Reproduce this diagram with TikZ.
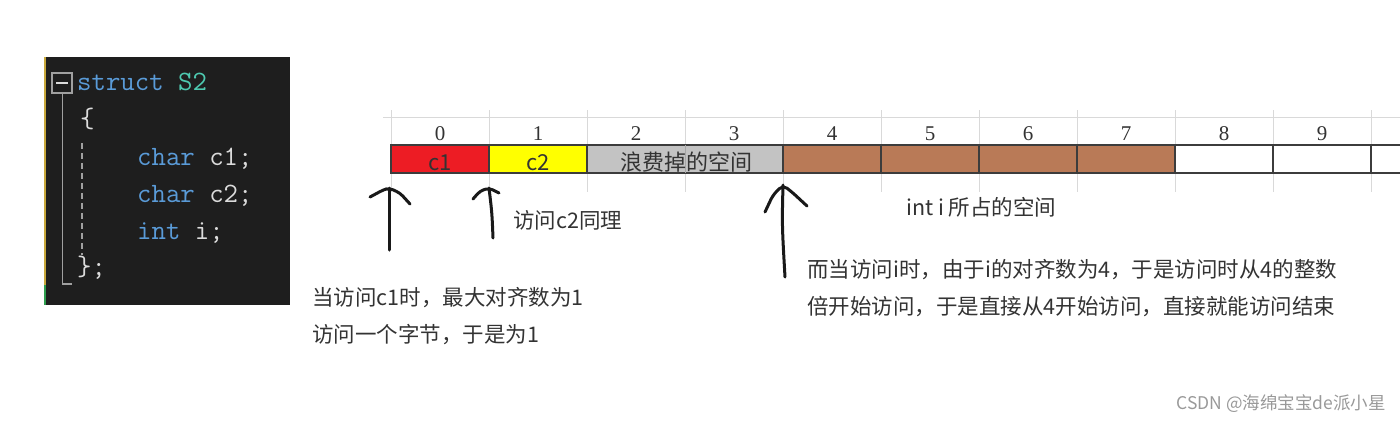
\documentclass[tikz,border=0pt]{standalone}
\usepackage{fontspec}
\usepackage{xcolor}
\usetikzlibrary{calc}
\newfontfamily\cjk{Noto Sans CJK SC}
\newfontfamily\numfont{Liberation Serif}

\definecolor{codebg}{HTML}{1E1E1E}
\definecolor{kwblue}{HTML}{5A9BD8}
\definecolor{typeteal}{HTML}{4EC9B0}
\definecolor{plaincode}{HTML}{DCDCDC}
\definecolor{guidegray}{HTML}{A0A0A0}
\definecolor{stripeyellow}{HTML}{C8A83C}
\definecolor{stripegreen}{HTML}{2E9E4E}
\definecolor{cRed}{HTML}{ED1C24}
\definecolor{cYellow}{HTML}{FFFF00}
\definecolor{cGray}{HTML}{C3C3C3}
\definecolor{cBrown}{HTML}{B97A57}
\definecolor{cellline}{HTML}{3C3C3C}
\definecolor{gridgray}{HTML}{D9D9D9}
\definecolor{notetext}{HTML}{333333}

\tikzset{
    memcell/.style={draw=cellline, line width=1.5pt, minimum width=98pt, minimum height=28pt, inner sep=0pt, outer sep=0pt},
    gridline/.style={draw=gridgray, line width=1pt},
    handarrow/.style={line width=3pt, line cap=round, line join=round, black!90},
    note/.style={font=\cjk\fontsize{21.5}{37}\selectfont, text=notetext, inner sep=0pt, align=left, anchor=west},
    codeline/.style={font=\ttfamily\fontsize{28}{33}\selectfont, text=plaincode, inner sep=0pt, anchor=base west},
    idx/.style={font=\numfont\fontsize{21}{24}\selectfont, text=black!80, inner sep=0pt},
    celltext/.style={font=\cjk\fontsize{22}{26}\selectfont, text=notetext, inner sep=0pt, anchor=base},
}

\begin{document}
\begin{tikzpicture}[x=1pt, y=-1pt]
    \useasboundingbox (0,0) rectangle (1400,421);
    \clip (0,0) rectangle (1400,421);

    % code panel
    \fill[codebg] (44,57) rectangle (290,305);
    \fill[stripeyellow] (44,57) rectangle (46,285);
    \fill[stripegreen] (44,285) rectangle (46,305);
    \draw[guidegray, line width=1.5pt] (52,73) rectangle (72,93);
    \draw[plaincode, line width=2pt] (56,83) -- (68,83);
    \draw[guidegray, line width=1.5pt] (62.5,93) -- (62.5,284) -- (72,284);
    \draw[guidegray, line width=1.5pt, dash pattern=on 6pt off 4pt] (82,143) -- (82,255);

    \node[codeline] (kwstruct) at (77,90) {{\color{kwblue}struct} {\color{typeteal}S2}};
    \node[codeline] (lbrace) at (80,127) {\{};
    \node[codeline] (fieldc1) at (137,165) {{\color{kwblue}char} c1;};
    \node[codeline] (fieldc2) at (137,202) {{\color{kwblue}char} c2;};
    \node[codeline] (fieldi) at (137,239) {{\color{kwblue}int} i;};
    \node[codeline] (rbrace) at (77,275) {\};};

    % memory table
    \foreach \k in {0,...,11}
        \draw[gridline] ({391+98*\k},110) -- ({391+98*\k},192);
    \draw[gridline] (383,117) -- (1400,117);

    \foreach \k in {0,...,9}
        \node[idx] (h\k) at ({440+98*\k},134) {\k};

    \node[memcell, fill=cRed] (m0) at (440,159) {};
    \node[memcell, fill=cYellow] (m1) at (538,159) {};
    \node[memcell, fill=cGray, minimum width=196pt] (waste) at (685,159) {};
    \foreach \k in {4,...,7}
        \node[memcell, fill=cBrown] (m\k) at ({440+98*\k},159) {};
    \foreach \k in {8,...,10}
        \node[memcell, fill=white] (m\k) at ({440+98*\k},159) {};
    \draw[gray!70, line width=1pt] (waste.north) -- (waste.south);

    \node[celltext] (lc1) at (440,170) {c1};
    \node[celltext] (lc2) at (538,170) {c2};
    \node[celltext] (lwaste) at (686,170) {浪费掉的空间};

    % hand drawn arrows
    \coordinate (p1tip) at ($(m0.south west)+(-2,15)$);
    \coordinate (p1tail) at ($(p1tip)+(0,62)$);
    \draw[handarrow] (p1tail) -- (p1tip);
    \draw[handarrow, rounded corners=4pt] (p1tip) ++(-19,9) -- ++(13,-7) -- (p1tip) -- ++(11,5) -- ++(10,11);

    \coordinate (p2tip) at ($(m1.south west)+(0,15)$);
    \coordinate (p2tail) at ($(p2tip)+(4,50)$);
    \draw[handarrow] (p2tail) .. controls ($(p2tip)+(3,25)$) .. (p2tip);
    \draw[handarrow, rounded corners=4pt] (p2tip) ++(-16,11) -- ++(7,-8) -- (p2tip) -- ++(10,5);

    \coordinate (p3tip) at ($(waste.south east)+(0,12)$);
    \coordinate (p3tail) at ($(p3tip)+(2,92)$);
    \draw[handarrow] (p3tail) .. controls ($(p3tip)+(-1,40)$) .. (p3tip);
    \draw[handarrow, rounded corners=5pt] (p3tip) ++(-18,27) -- ++(8,-17) -- (p3tip) -- ++(10,8) -- ++(14,13);

    % notes
    \node[note] (c2note) at (513,220) {访问c2同理};
    \node[note] (intnote) at (906,207) {int i 所占的空间};
    \node[note] (c1note) at (312,316.5) {当访问c1时，最大对齐数为1\\访问一个字节，于是为1};
    \node[note] (inote) at (807,288.5) {而当访问i时，由于i的对齐数为4，于是访问时从4的整数\\倍开始访问，于是直接从4开始访问，直接就能访问结束};

    \node[note, anchor=east, font=\cjk\fontsize{17.5}{20}\selectfont, text=black!40] (mark) at (1386,404) {CSDN @海绵宝宝de派小星};
\end{tikzpicture}
\end{document}
